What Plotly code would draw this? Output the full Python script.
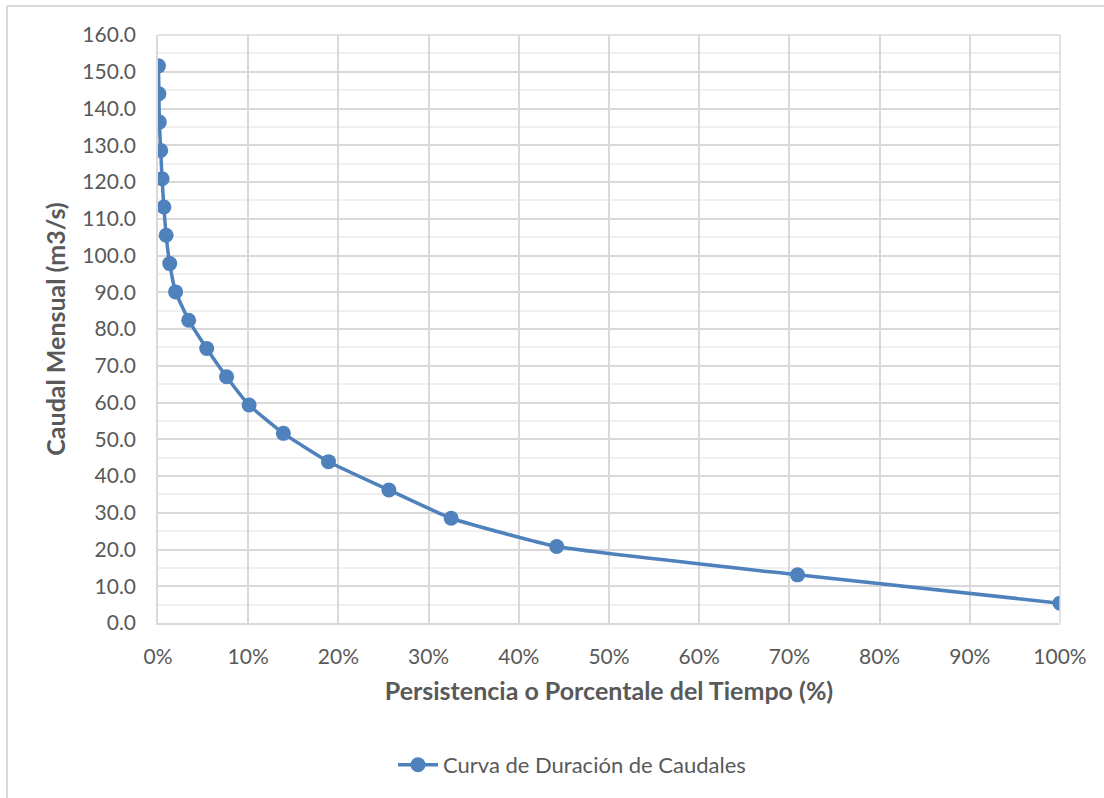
import plotly.graph_objects as go

# Flow-duration curve: exceedance percentage vs. monthly discharge
persistencia = [0.05, 0.1, 0.15, 0.3, 0.45, 0.65, 0.9, 1.3, 1.95, 3.4,
                5.4, 7.6, 10.1, 13.9, 18.9, 25.6, 32.5, 44.2, 70.9, 100.0]
caudal = [151.6, 144.0, 136.3, 128.6, 120.9, 113.2, 105.5, 97.8, 90.1, 82.4,
          74.7, 67.0, 59.3, 51.6, 43.9, 36.2, 28.5, 20.8, 13.1, 5.4]

y_ticks = [v * 10 for v in range(17)]
x_ticks = [v * 10 for v in range(11)]

W, H = 1104, 798
L, R, T, B = 158, 44, 35, 175
pw, ph = W - L - R, H - T - B

font_family = "Lato, 'Open Sans', sans-serif"
txt = "#595959"
grid = "#d9d9d9"

fig = go.Figure()
fig.add_trace(go.Scatter(
    x=[p / 100 for p in persistencia],
    y=caudal,
    mode="lines+markers",
    name="Curva de Duración de Caudales",
    line=dict(color="#4f81bd", width=3.5, shape="spline", smoothing=0.4),
    marker=dict(color="#4f81bd", size=15),
    hoverinfo="skip",
))

fig.update_layout(
    width=W, height=H,
    margin=dict(l=L, r=R, t=T, b=B),
    paper_bgcolor="white",
    plot_bgcolor="white",
    font=dict(family=font_family, size=21, color=txt),
    showlegend=True,
    legend=dict(
        orientation="h",
        x=(572 - L) / pw, xanchor="center",
        y=-(765 - T - ph) / ph, yanchor="middle",
        font=dict(size=22, color=txt),
        itemwidth=40,
    ),
    xaxis=dict(
        range=[0, 1],
        tickvals=[v / 100 for v in x_ticks],
        ticktext=[f"{v}%" for v in x_ticks],
        tickfont=dict(size=21),
        showgrid=True, gridcolor=grid, gridwidth=1.5,
        showline=True, linecolor=grid, linewidth=1.5,
        zeroline=False,
        ticks="", ticklabelstandoff=14,
        title=dict(text="<b>Persistencia o Porcentale del Tiempo (%)</b>",
                   font=dict(size=25, color=txt), standoff=16),
        fixedrange=True,
    ),
    yaxis=dict(
        range=[0, 160],
        tickvals=y_ticks,
        ticktext=[f"{v:.1f}" for v in y_ticks],
        tickfont=dict(size=21),
        showgrid=True, gridcolor=grid, gridwidth=1.5,
        minor=dict(dtick=5, showgrid=True, gridcolor="#f0f0f0", gridwidth=1.5),
        showline=True, linecolor=grid, linewidth=1.5,
        zeroline=False,
        ticks="", ticklabelstandoff=16,
        title=dict(text="<b>Caudal Mensual (m3/s)</b>",
                   font=dict(size=25, color=txt), standoff=10),
        fixedrange=True,
    ),
)

# top plot border and outer chart frame
fig.add_shape(type="line", xref="paper", yref="paper", x0=0, x1=1, y0=1, y1=1,
              line=dict(color=grid, width=1.5))
fig.add_shape(type="line", xref="paper", yref="paper", x0=1, x1=1, y0=0, y1=1,
              line=dict(color=grid, width=1.5))
fx0 = (7 - L) / pw
fy1 = 1 + (T - 6) / ph
fig.add_shape(type="line", xref="paper", yref="paper", x0=fx0, x1=(W + 5 - L) / pw,
              y0=fy1, y1=fy1, line=dict(color=grid, width=2))
fig.add_shape(type="line", xref="paper", yref="paper", x0=fx0, x1=fx0,
              y0=fy1, y1=-(H + 5 - T - ph) / ph, line=dict(color=grid, width=2))

fig.write_html("out.html", config={"displayModeBar": False})
